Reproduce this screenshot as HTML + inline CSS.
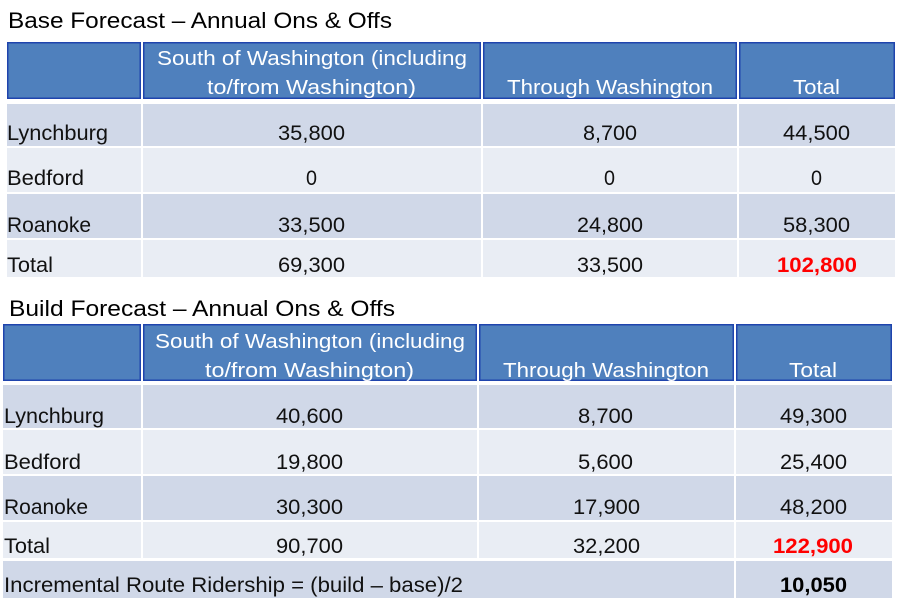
<!DOCTYPE html>
<html><head><meta charset="utf-8"><style>
html,body{margin:0;padding:0;background:#fff;}
svg{display:block;}
text{font-family:"Liberation Sans",sans-serif;}
.t{font-size:22px;fill:#000;}
.h{font-size:20px;fill:#fff;}
.c{font-size:21px;fill:#111;}
.r{font-size:21px;fill:#f00;font-weight:bold;}
.b{font-size:21px;fill:#000;font-weight:bold;}
.hd{fill:#4f80bd;stroke:#1f44ad;stroke-width:1.5;}
.d{fill:#d0d8e8;}
.l{fill:#e9edf4;}
</style></head><body>
<svg width="900" height="600" viewBox="0 0 900 600" xmlns="http://www.w3.org/2000/svg">
<rect width="900" height="600" fill="#fff"/>
<!-- Top table -->
<text class="t" x="8" y="28" textLength="384" lengthAdjust="spacingAndGlyphs">Base Forecast – Annual Ons &amp; Offs</text>
<rect class="hd" x="7.75" y="42.75" width="132.5" height="55.5"/>
<rect class="hd" x="143.75" y="42.75" width="336.5" height="55.5"/>
<rect class="hd" x="483.75" y="42.75" width="252.5" height="55.5"/>
<rect class="hd" x="739.75" y="42.75" width="154.5" height="55.5"/>
<rect class="d" x="7" y="104" width="134" height="42"/><rect class="d" x="143" y="104" width="338" height="42"/><rect class="d" x="483" y="104" width="254" height="42"/><rect class="d" x="739" y="104" width="156" height="42"/>
<rect class="l" x="7" y="148" width="134" height="44"/><rect class="l" x="143" y="148" width="338" height="44"/><rect class="l" x="483" y="148" width="254" height="44"/><rect class="l" x="739" y="148" width="156" height="44"/>
<rect class="d" x="7" y="194" width="134" height="44"/><rect class="d" x="143" y="194" width="338" height="44"/><rect class="d" x="483" y="194" width="254" height="44"/><rect class="d" x="739" y="194" width="156" height="44"/>
<rect class="l" x="7" y="240" width="134" height="37"/><rect class="l" x="143" y="240" width="338" height="37"/><rect class="l" x="483" y="240" width="254" height="37"/><rect class="l" x="739" y="240" width="156" height="37"/>

<text class="h" x="157" y="65" textLength="310" lengthAdjust="spacingAndGlyphs">South of Washington (including</text>
<text class="h" x="207" y="94" textLength="209" lengthAdjust="spacingAndGlyphs">to/from Washington)</text>
<text class="h" x="507" y="94" textLength="206" lengthAdjust="spacingAndGlyphs">Through Washington</text>
<text class="h" x="793" y="94" textLength="47" lengthAdjust="spacingAndGlyphs">Total</text>

<text class="c" x="7" y="140" textLength="101" lengthAdjust="spacingAndGlyphs">Lynchburg</text>
<text class="c" x="278" y="140" textLength="67" lengthAdjust="spacingAndGlyphs">35,800</text>
<text class="c" x="583" y="140" textLength="54" lengthAdjust="spacingAndGlyphs">8,700</text>
<text class="c" x="783" y="140" textLength="67" lengthAdjust="spacingAndGlyphs">44,500</text>

<text class="c" x="7" y="185" textLength="77" lengthAdjust="spacingAndGlyphs">Bedford</text>
<text class="c" x="306" y="185" textLength="11" lengthAdjust="spacingAndGlyphs">0</text>
<text class="c" x="604" y="185" textLength="11" lengthAdjust="spacingAndGlyphs">0</text>
<text class="c" x="811" y="185" textLength="11" lengthAdjust="spacingAndGlyphs">0</text>

<text class="c" x="7" y="232" textLength="84" lengthAdjust="spacingAndGlyphs">Roanoke</text>
<text class="c" x="278" y="232" textLength="67" lengthAdjust="spacingAndGlyphs">33,500</text>
<text class="c" x="577" y="232" textLength="66" lengthAdjust="spacingAndGlyphs">24,800</text>
<text class="c" x="783" y="232" textLength="67" lengthAdjust="spacingAndGlyphs">58,300</text>

<text class="c" x="7" y="272" textLength="46" lengthAdjust="spacingAndGlyphs">Total</text>
<text class="c" x="278" y="272" textLength="67" lengthAdjust="spacingAndGlyphs">69,300</text>
<text class="c" x="577" y="272" textLength="66" lengthAdjust="spacingAndGlyphs">33,500</text>
<text class="r" x="777" y="272" textLength="80" lengthAdjust="spacingAndGlyphs">102,800</text>

<!-- Bottom table -->
<text class="t" x="9" y="316" textLength="386" lengthAdjust="spacingAndGlyphs">Build Forecast – Annual Ons &amp; Offs</text>
<rect class="hd" x="3.75" y="324.75" width="136.5" height="55.5"/>
<rect class="hd" x="143.75" y="324.75" width="332.5" height="55.5"/>
<rect class="hd" x="479.75" y="324.75" width="253.5" height="55.5"/>
<rect class="hd" x="736.75" y="324.75" width="154.5" height="55.5"/>
<rect class="d" x="3" y="385" width="138" height="43"/><rect class="d" x="143" y="385" width="334" height="43"/><rect class="d" x="479" y="385" width="255" height="43"/><rect class="d" x="736" y="385" width="156" height="43"/>
<rect class="l" x="3" y="430" width="138" height="44"/><rect class="l" x="143" y="430" width="334" height="44"/><rect class="l" x="479" y="430" width="255" height="44"/><rect class="l" x="736" y="430" width="156" height="44"/>
<rect class="d" x="3" y="476" width="138" height="44"/><rect class="d" x="143" y="476" width="334" height="44"/><rect class="d" x="479" y="476" width="255" height="44"/><rect class="d" x="736" y="476" width="156" height="44"/>
<rect class="l" x="3" y="522" width="138" height="36"/><rect class="l" x="143" y="522" width="334" height="36"/><rect class="l" x="479" y="522" width="255" height="36"/><rect class="l" x="736" y="522" width="156" height="36"/>
<rect class="d" x="3" y="561" width="731" height="37"/><rect class="d" x="736" y="561" width="156" height="37"/>

<text class="h" x="155" y="348" textLength="310" lengthAdjust="spacingAndGlyphs">South of Washington (including</text>
<text class="h" x="205" y="377" textLength="209" lengthAdjust="spacingAndGlyphs">to/from Washington)</text>
<text class="h" x="503" y="377" textLength="206" lengthAdjust="spacingAndGlyphs">Through Washington</text>
<text class="h" x="789" y="377" textLength="48" lengthAdjust="spacingAndGlyphs">Total</text>

<text class="c" x="4" y="423" textLength="100" lengthAdjust="spacingAndGlyphs">Lynchburg</text>
<text class="c" x="276" y="423" textLength="67" lengthAdjust="spacingAndGlyphs">40,600</text>
<text class="c" x="578" y="423" textLength="55" lengthAdjust="spacingAndGlyphs">8,700</text>
<text class="c" x="780" y="423" textLength="67" lengthAdjust="spacingAndGlyphs">49,300</text>

<text class="c" x="4" y="469" textLength="77" lengthAdjust="spacingAndGlyphs">Bedford</text>
<text class="c" x="276" y="469" textLength="67" lengthAdjust="spacingAndGlyphs">19,800</text>
<text class="c" x="578" y="469" textLength="55" lengthAdjust="spacingAndGlyphs">5,600</text>
<text class="c" x="780" y="469" textLength="67" lengthAdjust="spacingAndGlyphs">25,400</text>

<text class="c" x="4" y="514" textLength="84" lengthAdjust="spacingAndGlyphs">Roanoke</text>
<text class="c" x="276" y="514" textLength="67" lengthAdjust="spacingAndGlyphs">30,300</text>
<text class="c" x="573" y="514" textLength="67" lengthAdjust="spacingAndGlyphs">17,900</text>
<text class="c" x="780" y="514" textLength="67" lengthAdjust="spacingAndGlyphs">48,200</text>

<text class="c" x="4" y="553" textLength="46" lengthAdjust="spacingAndGlyphs">Total</text>
<text class="c" x="276" y="553" textLength="67" lengthAdjust="spacingAndGlyphs">90,700</text>
<text class="c" x="573" y="553" textLength="67" lengthAdjust="spacingAndGlyphs">32,200</text>
<text class="r" x="773" y="553" textLength="80" lengthAdjust="spacingAndGlyphs">122,900</text>

<text class="c" x="4" y="592" textLength="459" lengthAdjust="spacingAndGlyphs">Incremental Route Ridership = (build – base)/2</text>
<text class="b" x="780" y="592" textLength="67" lengthAdjust="spacingAndGlyphs">10,050</text>
</svg>
</body></html>
